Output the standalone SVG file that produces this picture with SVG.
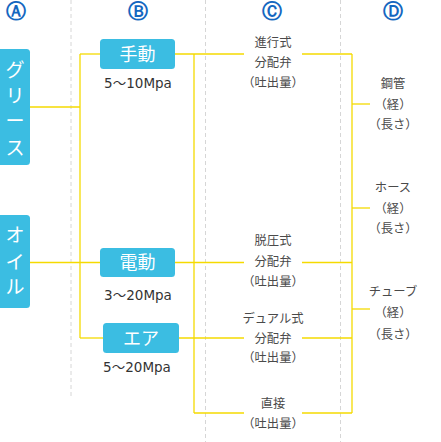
<svg xmlns="http://www.w3.org/2000/svg" width="441" height="442" viewBox="0 0 441 442">
<style>
.sep{stroke:#d6d6d6;stroke-width:1;stroke-dasharray:4 3;fill:none}
.ln{stroke:#f5da00;stroke-width:1.3;fill:none}
.box{fill:#3bbde2}
.hd{font-family:"DejaVu Sans",sans-serif;font-size:20px;fill:#1467c0;font-weight:bold;text-anchor:middle}
.bt{font-family:"Noto Sans CJK JP",sans-serif;font-size:18px;fill:#fff;text-anchor:middle}
.at{font-family:"Noto Sans CJK JP",sans-serif;font-size:19px;fill:#fff;text-anchor:middle}
.mp{font-family:"DejaVu Sans","Noto Sans CJK JP",sans-serif;font-size:13.5px;fill:#333;text-anchor:middle}
.lb{font-family:"Noto Sans CJK JP",sans-serif;font-size:12.3px;fill:#4a4a4a;text-anchor:middle}
</style>
<rect width="441" height="442" fill="#fff"/>
<g id="separators">
<line class="sep" x1="71" y1="0" x2="71" y2="397"/>
<line class="sep" x1="205.5" y1="0" x2="205.5" y2="442"/>
<line class="sep" x1="340.5" y1="0" x2="340.5" y2="442"/>
</g>
<g id="headers">
<text class="hd" x="16" y="18">Ⓐ</text>
<text class="hd" x="138" y="18">Ⓑ</text>
<text class="hd" x="272" y="18">Ⓒ</text>
<text class="hd" x="393" y="18">Ⓓ</text>
</g>
<g id="connectors">
<line class="ln" x1="30" y1="107" x2="80" y2="107"/>
<line class="ln" x1="30" y1="262.5" x2="100" y2="262.5"/>
<line class="ln" x1="80" y1="54" x2="80" y2="338"/>
<line class="ln" x1="80" y1="54" x2="100" y2="54"/>
<line class="ln" x1="80" y1="338" x2="103" y2="338"/>
<line class="ln" x1="175" y1="54" x2="244" y2="54"/>
<line class="ln" x1="302" y1="54" x2="352" y2="54"/>
<line class="ln" x1="175" y1="262.5" x2="244" y2="262.5"/>
<line class="ln" x1="302" y1="262.5" x2="352" y2="262.5"/>
<line class="ln" x1="179" y1="338" x2="244" y2="338"/>
<line class="ln" x1="302" y1="338" x2="352" y2="338"/>
<line class="ln" x1="194" y1="54" x2="194" y2="413"/>
<line class="ln" x1="194" y1="413" x2="244" y2="413"/>
<line class="ln" x1="302" y1="413" x2="352" y2="413"/>
<line class="ln" x1="352" y1="54" x2="352" y2="413"/>
<line class="ln" x1="352" y1="104" x2="370" y2="104"/>
<line class="ln" x1="352" y1="208" x2="370" y2="208"/>
<line class="ln" x1="352" y1="309" x2="370" y2="309"/>
</g>
<g id="node-grease">
<rect class="box" x="-4" y="49" width="34" height="116" rx="3.5"/>
<text class="at" x="15" y="76.5">グ</text>
<text class="at" x="15" y="103">リ</text>
<text class="at" x="15" y="128">ー</text>
<text class="at" x="15" y="154.5">ス</text>
</g>
<g id="node-oil">
<rect class="box" x="-4" y="215" width="34" height="93" rx="3.5"/>
<text class="at" x="15" y="241.5">オ</text>
<text class="at" x="15" y="268.5">イ</text>
<text class="at" x="15" y="294">ル</text>
</g>
<g id="node-manual">
<rect class="box" x="100" y="39" width="75" height="30" rx="3.5"/>
<text class="bt" x="137.5" y="60.5">手動</text>
<text class="mp" x="138" y="88">5～10Mpa</text>
</g>
<g id="node-electric">
<rect class="box" x="100" y="248" width="75" height="29" rx="3.5"/>
<text class="bt" x="137.5" y="269">電動</text>
<text class="mp" x="138" y="300">3～20Mpa</text>
</g>
<g id="node-air">
<rect class="box" x="103" y="323" width="76" height="30" rx="3.5"/>
<text class="bt" x="141" y="344.5">エア</text>
<text class="mp" x="137" y="372">5～20Mpa</text>
</g>
<g id="node-progressive">
<text class="lb" x="273" y="47">進行式</text>
<text class="lb" x="273" y="66.5">分配弁</text>
<text class="lb" x="273" y="87">（吐出量）</text>
</g>
<g id="node-depressure">
<text class="lb" x="273" y="245">脱圧式</text>
<text class="lb" x="273" y="266">分配弁</text>
<text class="lb" x="273" y="285.5">（吐出量）</text>
</g>
<g id="node-dual">
<text class="lb" x="273" y="323">デュアル式</text>
<text class="lb" x="273" y="342.5">分配弁</text>
<text class="lb" x="273" y="362">（吐出量）</text>
</g>
<g id="node-direct">
<text class="lb" x="273" y="407.5">直接</text>
<text class="lb" x="273" y="427.5">（吐出量）</text>
</g>
<g id="node-steel">
<text class="lb" x="393" y="87.5">鋼管</text>
<text class="lb" x="393" y="108.5">（経）</text>
<text class="lb" x="393" y="128.5">（長さ）</text>
</g>
<g id="node-hose">
<text class="lb" x="393" y="191.5">ホース</text>
<text class="lb" x="393" y="212.5">（経）</text>
<text class="lb" x="393" y="232.5">（長さ）</text>
</g>
<g id="node-tube">
<text class="lb" x="393" y="295.5">チューブ</text>
<text class="lb" x="393" y="317">（経）</text>
<text class="lb" x="393" y="338.5">（長さ）</text>
</g>
</svg>
